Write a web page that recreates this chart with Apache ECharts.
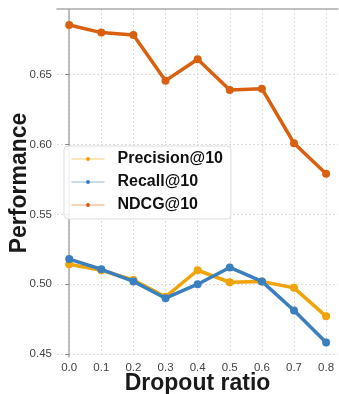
<!DOCTYPE html>
<html>
<head>
<meta charset="utf-8">
<script src="https://cdn.jsdelivr.net/npm/echarts@6/dist/echarts.min.js"></script>
<style>
  html, body { margin: 0; padding: 0; background: #fff; }
  #chart { width: 339px; height: 394px; }
</style>
</head>
<body>
<div id="chart"></div>
<script>
// Dropout ratios on the x axis
const dropoutRatios = [0.0, 0.1, 0.2, 0.3, 0.4, 0.5, 0.6, 0.7, 0.8];

// Metric values per dropout ratio
const precisionAt10 = [0.5143, 0.5100, 0.5030, 0.4910, 0.5100, 0.5014, 0.5020, 0.4974, 0.4770];
const recallAt10    = [0.5180, 0.5107, 0.5020, 0.4900, 0.5000, 0.5120, 0.5020, 0.4812, 0.4582];
const ndcgAt10      = [0.6856, 0.6801, 0.6784, 0.6457, 0.6610, 0.6390, 0.6400, 0.6009, 0.5791];

// Tick positions
const xTicks = [0.0, 0.1, 0.2, 0.3, 0.4, 0.5, 0.6, 0.7, 0.8];
const yTicks = [0.45, 0.50, 0.55, 0.60, 0.65];

const seriesNames = ['Precision@10', 'Recall@10', 'NDCG@10'];
const seriesColors = ['#EFA40B', '#3B80BE', '#D9600F'];
const seriesValues = [precisionAt10, recallAt10, ndcgAt10];

const FONT = '"Liberation Sans", Arial, sans-serif';

const chart = echarts.init(document.getElementById('chart'), null, { renderer: 'canvas' });

const gridLine = { show: true, lineStyle: { color: '#dcdcdc', width: 1, type: [2, 2] } };

chart.setOption({
  animation: false,
  backgroundColor: '#fff',
  textStyle: { fontFamily: FONT },
  grid: { left: 57, top: 9, right: 1, bottom: 37, containLabel: false, outerBoundsMode: 'none' },
  legend: {
    left: 64,
    top: 146,
    orient: 'vertical',
    data: seriesNames,
    itemWidth: 33,
    itemHeight: 5,
    itemGap: 5,
    padding: [4, 8, 5, 7],
    backgroundColor: 'rgba(255,255,255,0.85)',
    borderColor: '#dddddd',
    borderWidth: 1,
    borderRadius: 4,
    lineStyle: { width: 1, opacity: 0.55 },
    textStyle: {
      fontFamily: FONT,
      fontSize: 16,
      fontWeight: 'bold',
      color: '#111',
      lineHeight: 18,
      padding: [0, 0, 0, 8]
    }
  },
  xAxis: [{
    type: 'value',
    min: -0.038,
    max: 0.837,
    name: 'Dropout ratio',
    nameLocation: 'middle',
    nameGap: 15,
    nameMoveOverlap: false,
    nameTextStyle: { fontFamily: FONT, fontSize: 23, fontWeight: 'bold', color: '#1a1a1a' },
    axisLine: { show: false },
    axisTick: { show: false, customValues: xTicks },
    axisLabel: {
      customValues: xTicks,
      margin: 5,
      fontSize: 11.5,
      color: '#444',
      formatter: v => v.toFixed(1)
    },
    splitLine: gridLine
  }, {
    type: 'value',
    position: 'top',
    min: -0.038,
    max: 0.837,
    axisLine: { show: true, lineStyle: { color: '#aaa', width: 1.5 } },
    axisTick: { show: false },
    axisLabel: { show: false },
    splitLine: { show: false }
  }],
  yAxis: {
    type: 'value',
    min: 0.4479,
    max: 0.697,
    name: 'Performance',
    nameLocation: 'middle',
    nameGap: 26,
    nameMoveOverlap: false,
    nameTextStyle: { fontFamily: FONT, fontSize: 23, fontWeight: 'bold', color: '#1a1a1a' },
    axisLine: { show: true, lineStyle: { color: '#aaa', width: 1.5 } },
    axisTick: { show: true, length: 4, customValues: yTicks, lineStyle: { color: '#888' } },
    axisLabel: {
      customValues: yTicks,
      margin: 5,
      fontSize: 11.5,
      color: '#444',
      formatter: v => v.toFixed(2)
    },
    splitLine: gridLine
  },
  series: seriesNames.map((name, i) => ({
    name,
    type: 'line',
    xAxisIndex: 0,
    data: dropoutRatios.map((x, j) => [x, seriesValues[i][j]]),
    symbol: 'circle',
    symbolSize: 8,
    color: seriesColors[i],
    lineStyle: { width: 3.5, color: seriesColors[i] },
    itemStyle: { color: seriesColors[i] },
    z: 2 + i
  }))
});
</script>
</body>
</html>
